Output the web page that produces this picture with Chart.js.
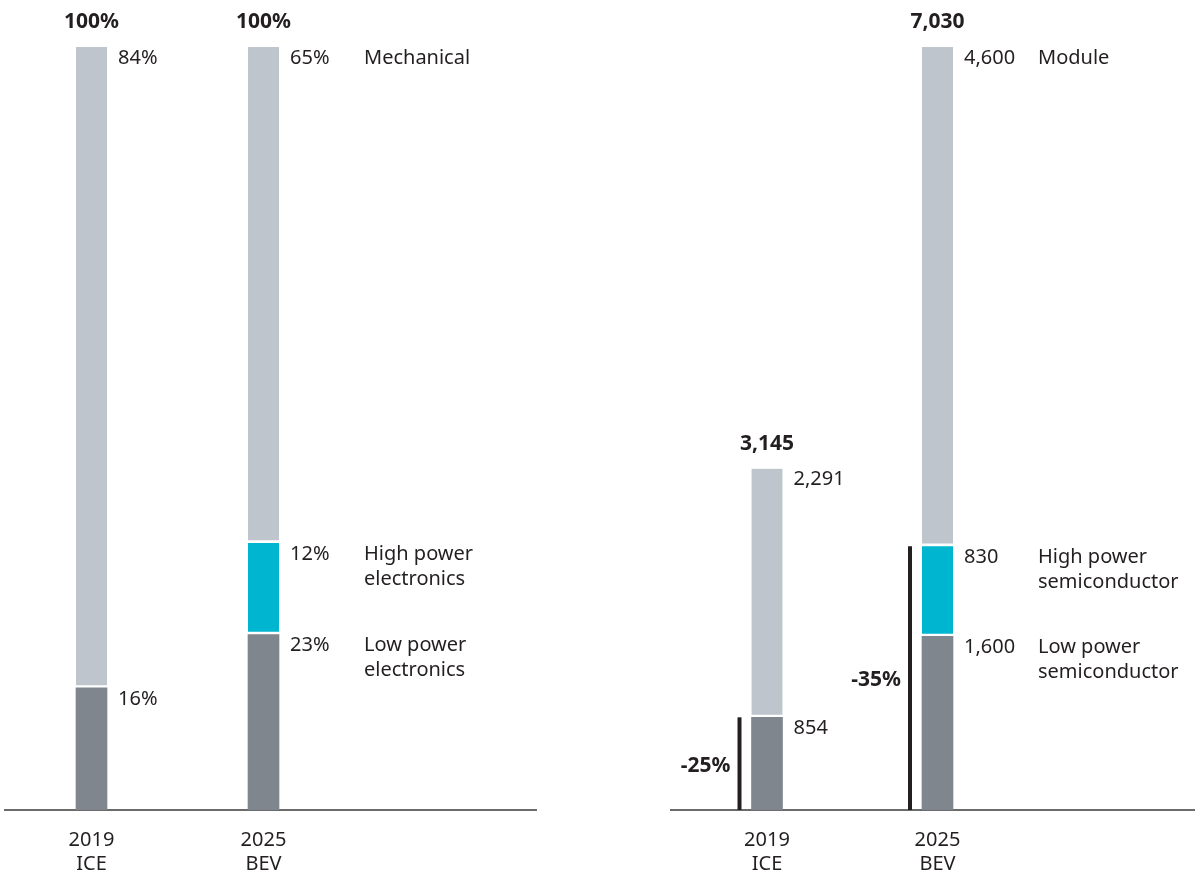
<!DOCTYPE html>
<html>
<head>
<meta charset="utf-8">
<script src="https://cdn.jsdelivr.net/npm/chart.js@4.4.1/dist/chart.umd.min.js"></script>
<style>
  body { margin: 0; background: #fff; }
  #wrap { position: relative; width: 1195px; height: 877px; }
  canvas { position: absolute; top: 0; }
</style>
</head>
<body>
<div id="wrap">
  <canvas id="kiri" width="560" height="877" style="left:0"></canvas>
  <canvas id="kanan" width="635" height="877" style="left:560px"></canvas>
</div>
<script>
// data
const kategori = [["2019", "ICE"], ["2025", "BEV"]];
const posisi = [0, 1];

const lowPersen = [16, 23];
const highPersen = [null, 12];
const mechPersen = [84, 65];
const totalPersen = ["100%", "100%"];
const namaKiri = [["Low power", "electronics"], ["High power", "electronics"], ["Mechanical"]];

const lowNilai = [854, 1600];
const highNilai = [null, 830];
const moduleNilai = [2291, 4600];
const totalNilai = ["3,145", "7,030"];
const namaKanan = [["Low power", "semiconductor"], ["High power", "semiconductor"], ["Module"]];

const perubahan = ["-25%", "-35%"];

const WARNA_LOW = "#7f868e";
const WARNA_HIGH = "#00b5d0";
const WARNA_MECH = "#bec5cd";
const TEKS = "#231f20";
const FONT = "'Noto Sans', sans-serif";

function seri(nilai, warna, atas) {
  return {
    data: posisi.map((x, i) => ({ x: x, y: nilai[i] })),
    backgroundColor: warna,
    borderColor: "#fff",
    borderWidth: atas ? { top: 0, left: 0, right: 0, bottom: 3 } : 0,
    borderSkipped: false,
    barThickness: 31
  };
}

// label angka, nama seri, total dan garis perubahan
const labelPlugin = {
  id: "labelBar",
  afterDatasetsDraw(chart, args, opts) {
    const ctx = chart.ctx;
    const y = chart.scales.y;
    ctx.save();
    ctx.fillStyle = TEKS;
    ctx.strokeStyle = TEKS;
    ctx.textBaseline = "middle";
    ctx.textAlign = "left";
    ctx.font = "20px " + FONT;

    chart.data.datasets.forEach((ds, di) => {
      const meta = chart.getDatasetMeta(di);
      meta.data.forEach((bar, i) => {
        const v = ds.data[i].y;
        if (v === null) return;
        const kanan = bar.x + bar.width / 2;
        ctx.fillText(opts.format(v), kanan + 11, bar.y + 11);
        if (i === posisi.length - 1) {
          opts.nama[di].forEach((baris, k) => {
            ctx.fillText(baris, kanan + 85, bar.y + 11 + k * 25);
          });
        }
      });
    });

    // total di atas batang
    ctx.font = "bold 21px " + FONT;
    ctx.textAlign = "center";
    const metaAtas = chart.getDatasetMeta(chart.data.datasets.length - 1);
    metaAtas.data.forEach((bar, i) => {
      ctx.fillText(opts.total[i], bar.x, bar.y - 25);
    });

    // garis perubahan (hanya panel kanan)
    if (opts.ubah) {
      const low = chart.data.datasets[0].data;
      const high = chart.data.datasets[1].data;
      chart.getDatasetMeta(0).data.forEach((bar, i) => {
        const atas = y.getPixelForValue(low[i].y + (high[i].y || 0));
        const bawah = y.getPixelForValue(0);
        const gx = bar.x - bar.width / 2 - 12;
        ctx.lineWidth = 4;
        ctx.beginPath();
        ctx.moveTo(gx, atas);
        ctx.lineTo(gx, bawah);
        ctx.stroke();
        ctx.textAlign = "right";
        ctx.fillText(opts.ubah[i], gx - 9, (atas + bawah) / 2 + 2);
      });
    }
    ctx.restore();
  }
};

function buatChart(id, datasets, maxY, minX, maxX, padKiri, padKanan, plugOpts) {
  const ctx = document.getElementById(id).getContext("2d");
  return new Chart(ctx, {
    type: "bar",
    data: { datasets: datasets },
    options: {
      responsive: false,
      animation: false,
      layout: { padding: { left: padKiri, right: padKanan, top: 47, bottom: 0 } },
      plugins: {
        legend: { display: false },
        tooltip: { enabled: false },
        labelBar: plugOpts
      },
      scales: {
        x: {
          type: "linear",
          stacked: true,
          offset: false,
          min: minX,
          max: maxX,
          grid: { display: false, drawTicks: false },
          border: { display: true, color: "#6b6b6b", width: 2 },
          afterBuildTicks: (s) => { s.ticks = posisi.map(v => ({ value: v })); },
          afterFit: (s) => { s.height = 67; },
          ticks: {
            padding: 18,
            color: TEKS,
            font: { family: FONT, size: 20, lineHeight: 1.2 },
            callback: (v) => kategori[v]
          }
        },
        y: {
          stacked: true,
          display: false,
          min: 0,
          max: maxY
        }
      }
    },
    plugins: [labelPlugin]
  });
}

buatChart("kiri", [
  seri(lowPersen, WARNA_LOW, false),
  seri(highPersen, WARNA_HIGH, true),
  seri(mechPersen, WARNA_MECH, true)
], 100, (5 - 91.5) / 172, (536 - 91.5) / 172, 5, 24, {
  format: (v) => v + "%",
  nama: namaKiri,
  total: totalPersen
});

buatChart("kanan", [
  seri(lowNilai, WARNA_LOW, false),
  seri(highNilai, WARNA_HIGH, true),
  seri(moduleNilai, WARNA_MECH, true)
], 7030, (671 - 767) / 170.5, (1195 - 767) / 170.5, 111, 0, {
  format: (v) => v.toLocaleString("en-US"),
  nama: namaKanan,
  total: totalNilai,
  ubah: perubahan
});
</script>
</body>
</html>
